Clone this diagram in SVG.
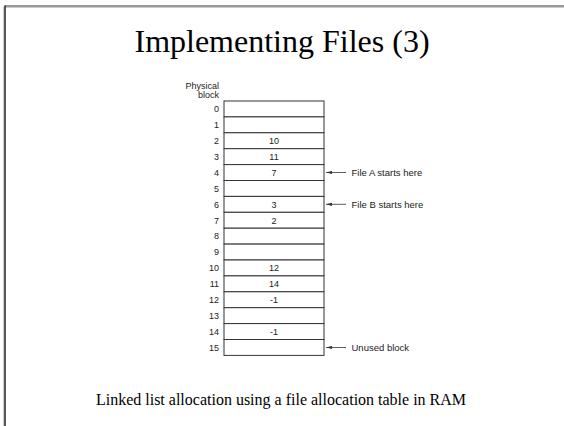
<svg xmlns="http://www.w3.org/2000/svg" width="564" height="426" viewBox="0 0 564 426">
<style>
.title{font-family:"Liberation Serif","Times New Roman",serif;font-size:32px;fill:#000}
.cap{font-family:"Liberation Serif","Times New Roman",serif;font-size:16px;fill:#000}
.lbl{font-family:"Liberation Sans",Arial,sans-serif;font-size:9px;fill:#222}
.ann{font-family:"Liberation Sans",Arial,sans-serif;font-size:9.5px;fill:#222}
.cell{fill:#fff;stroke:#333;stroke-width:1}
.conn{stroke:#333;stroke-width:0.8;fill:none}
</style>
<defs>
<marker id="ah" markerWidth="6" markerHeight="4" refX="0" refY="2" orient="auto" markerUnits="userSpaceOnUse">
<path d="M0,2 L6,0.4 L6,3.6 Z" fill="#333"/>
</marker>
</defs>
<rect width="564" height="426" fill="#fff"/>
<g id="frame">
<line x1="3.5" y1="7" x2="3.5" y2="426" stroke="#ccc" stroke-width="1"/>
<line x1="5" y1="7.5" x2="564" y2="7.5" stroke="#ccc" stroke-width="1"/>
<line x1="5" y1="6" x2="564" y2="6" stroke="#777" stroke-width="1.5"/>
<line x1="5" y1="5.5" x2="5" y2="426" stroke="#222" stroke-width="1.5"/>
</g>
<text id="title" class="title" x="282" y="52" text-anchor="middle">Implementing Files (3)</text>
<g id="header">
<text class="lbl" x="219" y="88.5" text-anchor="end">Physical</text>
<text class="lbl" x="219" y="97.5" text-anchor="end">block</text>
</g>
<g id="table">
<g id="row0"><rect class="cell" x="224" y="101" width="100" height="15.9"/><text class="lbl" x="219" y="112.2" text-anchor="end">0</text></g>
<g id="row1"><rect class="cell" x="224" y="116.9" width="100" height="15.9"/><text class="lbl" x="219" y="128.1" text-anchor="end">1</text></g>
<g id="row2"><rect class="cell" x="224" y="132.8" width="100" height="15.9"/><text class="lbl" x="219" y="144" text-anchor="end">2</text><text class="lbl" x="274" y="144" text-anchor="middle">10</text></g>
<g id="row3"><rect class="cell" x="224" y="148.7" width="100" height="15.9"/><text class="lbl" x="219" y="159.9" text-anchor="end">3</text><text class="lbl" x="274" y="159.9" text-anchor="middle">11</text></g>
<g id="row4"><rect class="cell" x="224" y="164.6" width="100" height="15.9"/><text class="lbl" x="219" y="175.8" text-anchor="end">4</text><text class="lbl" x="274" y="175.8" text-anchor="middle">7</text></g>
<g id="row5"><rect class="cell" x="224" y="180.5" width="100" height="15.9"/><text class="lbl" x="219" y="191.7" text-anchor="end">5</text></g>
<g id="row6"><rect class="cell" x="224" y="196.4" width="100" height="15.9"/><text class="lbl" x="219" y="207.6" text-anchor="end">6</text><text class="lbl" x="274" y="207.6" text-anchor="middle">3</text></g>
<g id="row7"><rect class="cell" x="224" y="212.3" width="100" height="15.9"/><text class="lbl" x="219" y="223.5" text-anchor="end">7</text><text class="lbl" x="274" y="223.5" text-anchor="middle">2</text></g>
<g id="row8"><rect class="cell" x="224" y="228.2" width="100" height="15.9"/><text class="lbl" x="219" y="239.4" text-anchor="end">8</text></g>
<g id="row9"><rect class="cell" x="224" y="244.1" width="100" height="15.9"/><text class="lbl" x="219" y="255.3" text-anchor="end">9</text></g>
<g id="row10"><rect class="cell" x="224" y="260" width="100" height="15.9"/><text class="lbl" x="219" y="271.2" text-anchor="end">10</text><text class="lbl" x="274" y="271.2" text-anchor="middle">12</text></g>
<g id="row11"><rect class="cell" x="224" y="275.9" width="100" height="15.9"/><text class="lbl" x="219" y="287.1" text-anchor="end">11</text><text class="lbl" x="274" y="287.1" text-anchor="middle">14</text></g>
<g id="row12"><rect class="cell" x="224" y="291.8" width="100" height="15.9"/><text class="lbl" x="219" y="303" text-anchor="end">12</text><text class="lbl" x="274" y="303" text-anchor="middle">-1</text></g>
<g id="row13"><rect class="cell" x="224" y="307.7" width="100" height="15.9"/><text class="lbl" x="219" y="318.9" text-anchor="end">13</text></g>
<g id="row14"><rect class="cell" x="224" y="323.6" width="100" height="15.9"/><text class="lbl" x="219" y="334.8" text-anchor="end">14</text><text class="lbl" x="274" y="334.8" text-anchor="middle">-1</text></g>
<g id="row15"><rect class="cell" x="224" y="339.5" width="100" height="15.9"/><text class="lbl" x="219" y="350.7" text-anchor="end">15</text></g>
</g>
<g id="connectors">
<line class="conn" x1="326" y1="172.5" x2="346" y2="172.5" marker-start="url(#ah)"/>
<line class="conn" x1="326" y1="204.3" x2="346" y2="204.3" marker-start="url(#ah)"/>
<line class="conn" x1="326" y1="347.5" x2="346" y2="347.5" marker-start="url(#ah)"/>
</g>
<g id="annotations">
<text class="ann" x="351.5" y="175.8">File A starts here</text>
<text class="ann" x="351.5" y="207.6">File B starts here</text>
<text class="ann" x="351.5" y="350.8">Unused block</text>
</g>
<text id="caption" class="cap" x="281" y="405" text-anchor="middle">Linked list allocation using a file allocation table in RAM</text>
</svg>
